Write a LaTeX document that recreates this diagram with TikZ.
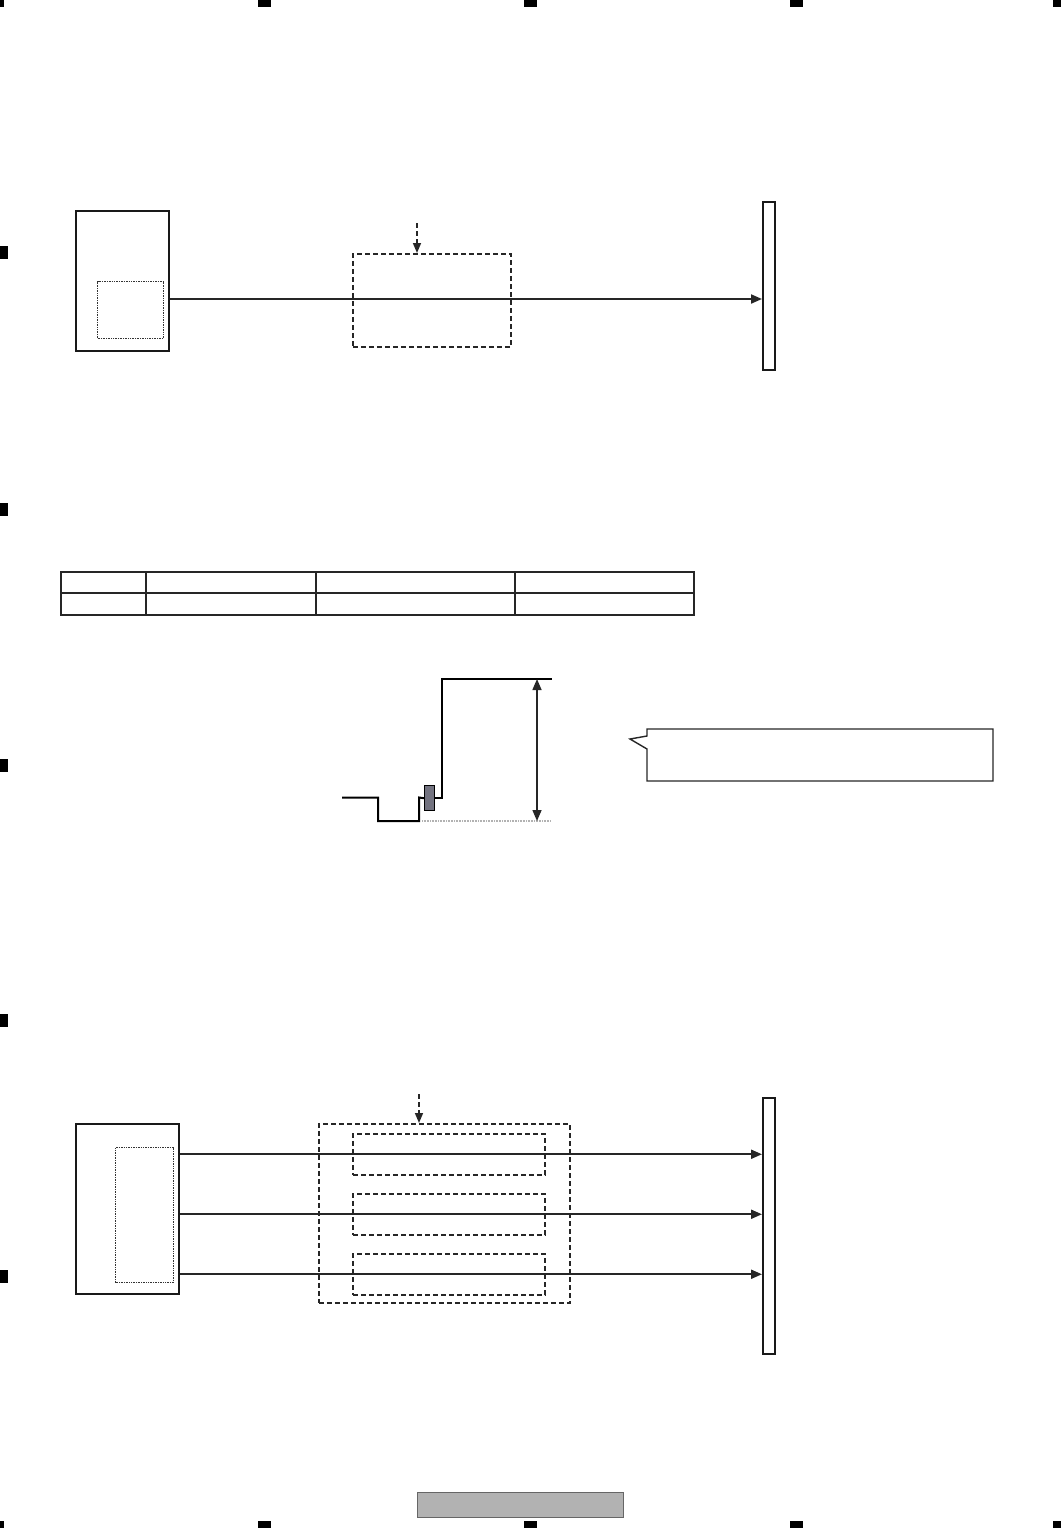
\documentclass[tikz,border=0pt]{standalone}
\usepackage{xcolor}
\usepackage{tikz}
\usetikzlibrary{arrows.meta, positioning, calc}
\tikzset{
  unit/.style={rectangle, draw=black!90, line width=1.7pt, inner sep=0pt,
               anchor=north west},
  chip/.style={rectangle, draw=black!80, line width=1pt,
               dash pattern=on 1pt off 0.7pt, inner sep=0pt, anchor=north west},
  filt/.style={rectangle, draw=black!85, line width=1.5pt,
               dash pattern=on 5pt off 3pt, inner sep=0pt, anchor=north west},
  bus/.style={rectangle, draw=black!90, line width=1.7pt, inner sep=0pt,
              anchor=north west},
  sig/.style={-{Triangle[length=11pt, width=9pt]}, line width=2pt, black!85},
  ctl/.style={-{Triangle[length=10pt, width=8pt]}, line width=1.6pt, black!85,
              dash pattern=on 5pt off 3pt},
  grid/.style={line width=1.4pt, black!85},
  wave/.style={line width=2pt, black},
  pulse/.style={rectangle, draw=black, line width=1.4pt, fill=black!50!blue!10!gray,
                inner sep=0pt, anchor=north west},
  span/.style={{Triangle[length=11pt, width=9pt]}-{Triangle[length=11pt, width=9pt]},
               line width=1.5pt, black!85},
  gnd/.style={line width=1.5pt, black!30, dash pattern=on 1pt off 0.6pt},
  note/.style={line width=1.4pt, black!85},
  footer/.style={rectangle, draw=black!60, line width=1.2pt, fill=black!30,
                 inner sep=0pt, anchor=north west},
  regmark/.style={fill=black},
}
\begin{document}
\begin{tikzpicture}[x=1pt, y=-1pt]
  \useasboundingbox (0,0) rectangle (1063,1528);
  %% registration marks
  \foreach \mx in {258,524,790}{
    \fill[regmark] (\mx,0) rectangle ++(13,7);
    \fill[regmark] (\mx,1521) rectangle ++(13,7);
  }
  \foreach \my in {246,503,759,1014,1270}
    \fill[regmark] (0,\my) rectangle ++(8,13);
  \fill[regmark] (0,0) rectangle (4,7);
  \fill[regmark] (1053,0) rectangle (1061,7);
  \fill[regmark] (0,1521) rectangle (4,1528);
  \fill[regmark] (1053,1521) rectangle (1061,1528);
  %% single channel path
  \node[unit, minimum width=93pt, minimum height=140pt] (ic1) at (75,210) {};
  \node[chip, minimum width=66pt, minimum height=57pt] (blk1) at (97,281) {};
  \node[filt, minimum width=158pt, minimum height=93pt] (filt1) at (352,253) {};
  \node[bus, minimum width=12pt, minimum height=168pt] (bus1) at (762,201) {};
  \coordinate (s1) at (0,299);
  \coordinate (c1) at (417,223);
  \draw[sig] (ic1.east |- s1) -- (bus1.west |- s1);
  \draw[ctl] (c1) -- (c1 |- filt1.north);
  %% table
  \draw[grid] (61,572) rectangle (694,615);
  \draw[grid] (61,593) -- (694,593);
  \foreach \cx in {146,316,515}
    \draw[grid] (\cx,572) -- (\cx,615);
  %% waveform
  \node[pulse, minimum width=10pt, minimum height=25pt] (pls) at (424,785) {};
  \coordinate (top) at (537,679);
  \coordinate (base) at (537,821);
  \draw[wave] (342,797.5) -| (378,821) -| (419,797.5) -- (pls.west);
  \draw[wave] (pls.east) -- ++(7,0) |- (552,679);
  \draw[gnd] (422,821) -- (551,821);
  \draw[span] (top) -- (base);
  %% callout
  \draw[note] (647,729) -- (993,729) -- (993,781) -- (647,781)
    -- (647,749) -- (630,739) -- (647,736) -- cycle;
  %% three channel path
  \node[unit, minimum width=103pt, minimum height=170pt] (ic2) at (75,1123) {};
  \node[chip, minimum width=58pt, minimum height=135pt] (blk2) at (115,1147) {};
  \node[filt, minimum width=251pt, minimum height=179pt] (filt2) at (318,1123) {};
  \foreach \n/\yy in {1/1133,2/1193,3/1253}
    \node[filt, minimum width=192pt, minimum height=41pt] (ch\n) at (352,\yy) {};
  \node[bus, minimum width=12pt, minimum height=256pt] (bus2) at (762,1097) {};
  \foreach \n in {1,2,3}
    \draw[sig] (ic2.east |- ch\n) -- (bus2.west |- ch\n);
  \coordinate (c2) at (419,1094);
  \draw[ctl] (c2) -- (c2 |- filt2.north);
  %% page footer
  \node[footer, minimum width=206pt, minimum height=25pt] (pg) at (417,1492) {};
\end{tikzpicture}
\end{document}
